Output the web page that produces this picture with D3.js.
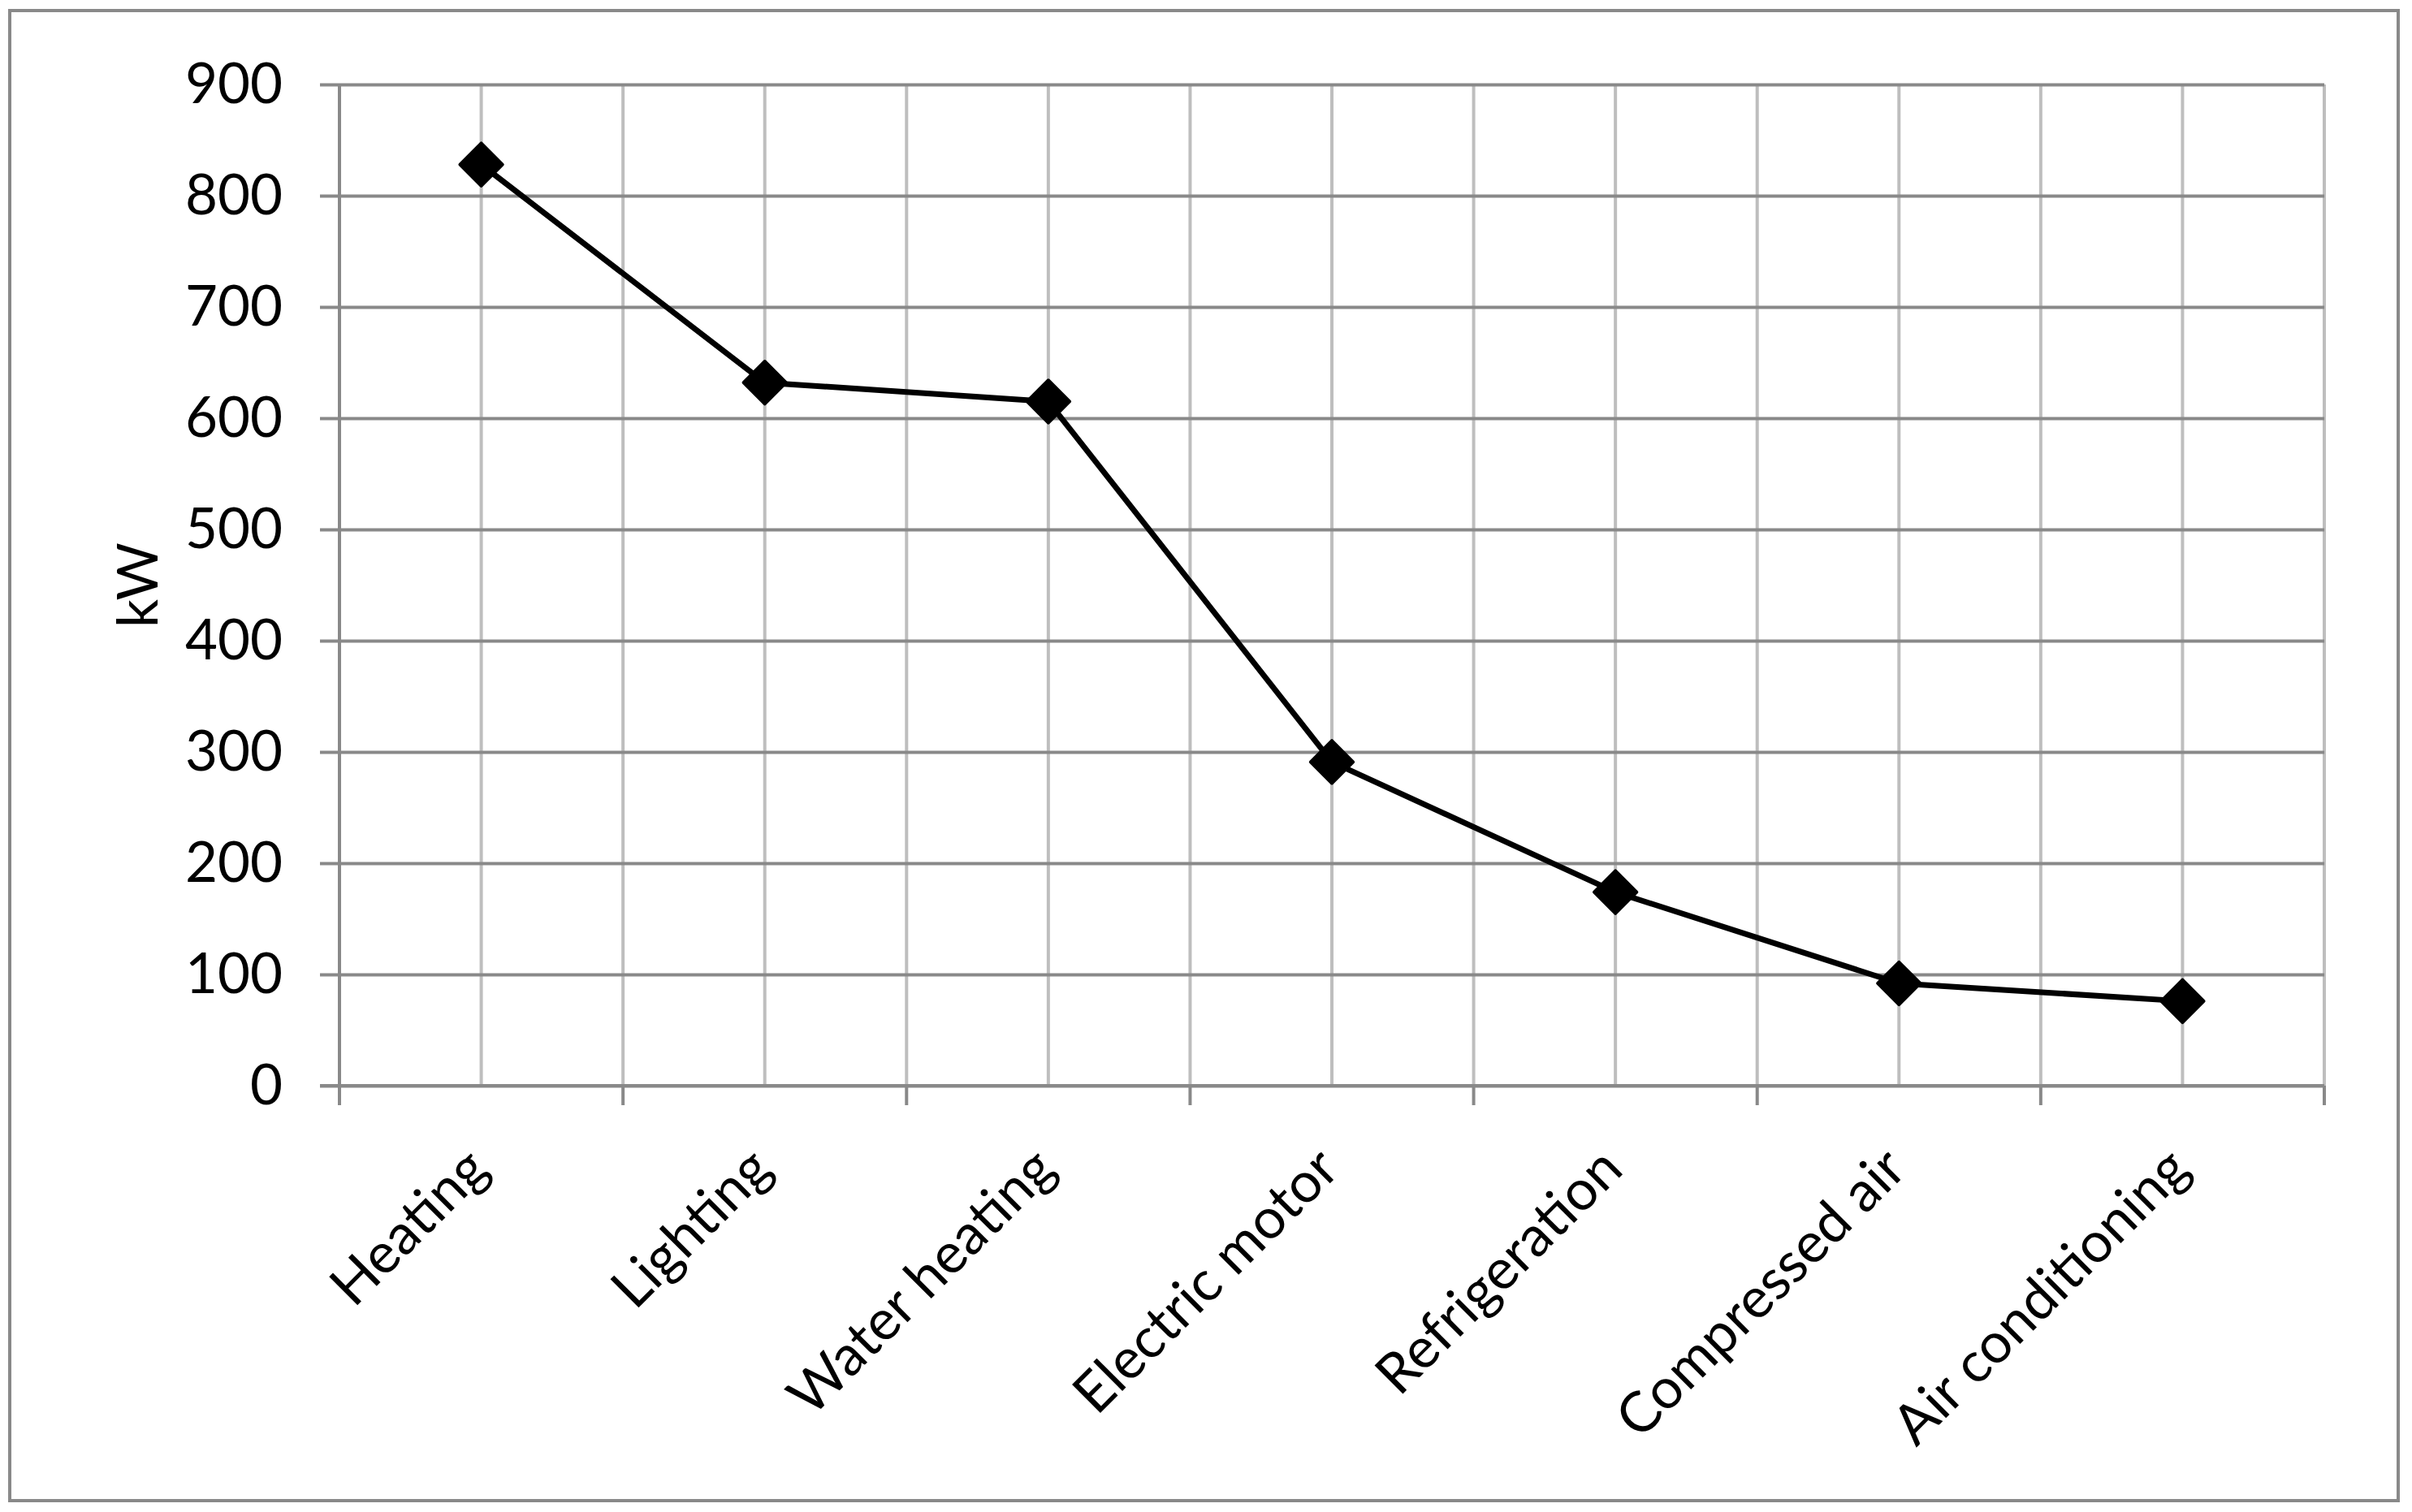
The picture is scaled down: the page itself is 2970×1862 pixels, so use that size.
<!DOCTYPE html>
<html>
<head>
<meta charset="utf-8">
<script src="https://cdn.jsdelivr.net/npm/d3@7"></script>
<style>
  html, body { margin: 0; padding: 0; background: #ffffff; }
  svg { display: block; }
  text { font-family: Lato, "Open Sans", "DejaVu Sans", sans-serif; fill: #000; }
</style>
</head>
<body>
<script>
const categories = ["Heating", "Lighting", "Water heating", "Electric motor", "Refrigeration", "Compressed air", "Air conditioning"];
const values = [828, 632, 615, 291, 174, 92, 76];
const yTicks = [0, 100, 200, 300, 400, 500, 600, 700, 800, 900];
const yLabel = "kW";

const W = 2970, H = 1862;
const plot = { left: 418, right: 2862, top: 104, bottom: 1337 };
const FS = 69;

const svg = d3.select("body").append("svg").attr("width", W).attr("height", H);
svg.append("rect").attr("x", 0).attr("y", 0).attr("width", W).attr("height", H).attr("fill", "#fff");

// outer border
svg.append("rect").attr("x", 12).attr("y", 13).attr("width", 2941).attr("height", 1835)
  .attr("fill", "none").attr("stroke", "#898989").attr("stroke-width", 4);

const x = d3.scaleBand().domain(categories).range([plot.left, plot.right]).paddingInner(0).paddingOuter(0);
const y = d3.scaleLinear().domain([0, 900]).range([plot.bottom, plot.top]);

const grid = svg.append("g");
const boundaries = categories.map(c => x(c)).concat([plot.right]);
const centers = categories.map(c => x(c) + x.bandwidth() / 2);
grid.selectAll("line.vb").data(boundaries.slice(1)).enter().append("line")
  .attr("x1", d => d).attr("x2", d => d).attr("y1", plot.top).attr("y2", plot.bottom)
  .attr("stroke", "#bebebe").attr("stroke-width", 4);
grid.selectAll("line.vc").data(centers).enter().append("line")
  .attr("x1", d => d).attr("x2", d => d).attr("y1", plot.top).attr("y2", plot.bottom)
  .attr("stroke", "#bebebe").attr("stroke-width", 4);

// horizontal gridlines + y ticks (via axis)
const yAxis = d3.axisLeft(y).tickValues(yTicks).tickSize(24).tickPadding(46).tickFormat(d3.format("d"));
const yg = svg.append("g").attr("transform", `translate(${plot.left},0)`).call(yAxis);
yg.select(".domain").remove();
yg.selectAll(".tick line").attr("stroke", "#898989").attr("stroke-width", 4);
yg.selectAll(".tick").append("line")
  .attr("x1", 0).attr("x2", plot.right - plot.left)
  .attr("stroke", "#898989").attr("stroke-width", 4);
yg.selectAll(".tick text").attr("font-size", FS).attr("fill", "#000")
  .style("font-family", "Lato, 'Open Sans', sans-serif");

// y axis line
svg.append("line").attr("x1", plot.left).attr("x2", plot.left).attr("y1", plot.top).attr("y2", plot.bottom)
  .attr("stroke", "#898989").attr("stroke-width", 4);
// x axis line
svg.append("line").attr("x1", plot.left - 24).attr("x2", plot.right).attr("y1", plot.bottom).attr("y2", plot.bottom)
  .attr("stroke", "#898989").attr("stroke-width", 4);
// x ticks at boundaries
svg.selectAll("line.xt").data(boundaries).enter().append("line")
  .attr("x1", d => d).attr("x2", d => d).attr("y1", plot.bottom).attr("y2", plot.bottom + 24)
  .attr("stroke", "#898989").attr("stroke-width", 4);

// category labels
svg.append("g").selectAll("text").data(categories).enter().append("text")
  .attr("transform", d => `translate(${x(d) + x.bandwidth() / 2 + 12},${plot.bottom + 106}) rotate(-45)`)
  .attr("text-anchor", "end")
  .attr("font-size", FS)
  .text(d => d);

// y label
svg.append("text")
  .attr("transform", `translate(${170},${(plot.top + plot.bottom) / 2}) rotate(-90)`)
  .attr("text-anchor", "middle").attr("dy", "0.35em")
  .attr("font-size", FS).text(yLabel);

// line
const data = categories.map((c, i) => ({ c, v: values[i] }));
const line = d3.line().x(d => x(d.c) + x.bandwidth() / 2).y(d => y(d.v));
svg.append("path").datum(data).attr("d", line)
  .attr("fill", "none").attr("stroke", "#000").attr("stroke-width", 7).attr("stroke-linejoin", "round");

// diamond markers
const sym = d3.symbol().type(d3.symbolSquare).size(37 * 37);
svg.append("g").selectAll("path").data(data).enter().append("path")
  .attr("d", sym)
  .attr("transform", d => `translate(${x(d.c) + x.bandwidth() / 2},${y(d.v)}) rotate(45)`)
  .attr("fill", "#000").attr("stroke", "#000").attr("stroke-width", 4).attr("stroke-linejoin", "round");
</script>
</body>
</html>
